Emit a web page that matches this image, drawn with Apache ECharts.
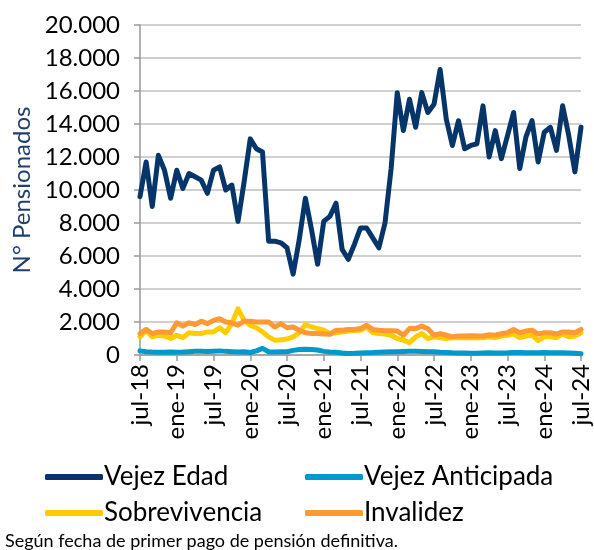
<!DOCTYPE html>
<html>
<head>
<meta charset="utf-8">
<script src="https://cdn.jsdelivr.net/npm/echarts@6/dist/echarts.min.js"></script>
<style>
html,body{margin:0;padding:0;background:#fff;}
#chart{width:594px;height:550px;}
</style>
</head>
<body>
<div id="chart"></div>
<script>
const monthNames = ['ene','feb','mar','abr','may','jun','jul','ago','sep','oct','nov','dic'];
// jul-18 .. jul-24 (73 months)
const categories = [];
for (let i = 0; i < 73; i++) {
  const m = (6 + i) % 12;
  const y = 18 + Math.floor((6 + i) / 12);
  categories.push(monthNames[m] + '-' + y);
}

const vejezEdad = [9600,11700,9000,12100,11200,9500,11200,10100,11000,10800,10600,9800,
  11200,11400,10000,10300,8100,10500,13100,12500,12300,6900,6900,6800,
  6500,4900,7000,9500,7600,5500,8100,8400,9200,6400,5800,6700,
  7700,7700,7100,6500,8000,11300,15900,13600,15500,13800,15900,14700,
  15200,17300,14300,12700,14200,12500,12700,12800,15100,12000,13600,11900,
  13300,14700,11300,13200,14200,11700,13500,13800,12400,15100,13300,11100,13800];

const vejezAnticipada = [250,200,180,170,170,180,170,180,200,220,230,210,
  230,250,220,200,180,200,150,250,400,200,180,190,
  200,280,330,350,330,300,220,180,170,120,90,100,
  120,140,150,170,180,190,200,210,220,220,210,200,
  200,170,150,130,120,120,110,110,120,130,120,120,
  130,150,150,140,130,140,150,140,130,130,120,100,70];

const sobrevivencia = [1100,1500,1100,1200,1150,1000,1200,1050,1350,1300,1300,1400,
  1400,1650,1350,1900,2800,2100,1800,1650,1400,1100,900,930,
  970,1100,1350,1850,1700,1600,1500,1300,1350,1400,1450,1480,
  1500,1700,1350,1300,1270,1200,1000,900,750,1100,1300,1000,
  1100,1050,1000,1050,1050,1050,1050,1050,1050,1100,1050,1150,
  1200,1270,1050,1150,1200,870,1100,1100,1050,1270,1100,1150,1350];

const invalidez = [1300,1550,1300,1400,1400,1350,1950,1750,1950,1850,2050,1900,
  2100,2200,2000,1950,1800,2050,2050,2000,2000,2000,1700,1900,
  1650,1700,1500,1350,1300,1300,1280,1250,1500,1500,1550,1550,
  1600,1800,1550,1500,1470,1470,1450,1200,1600,1600,1750,1600,
  1200,1300,1200,1100,1150,1150,1170,1150,1150,1230,1200,1300,
  1350,1550,1350,1450,1500,1270,1350,1350,1270,1400,1400,1350,1550];

const yTicks = [0,2000,4000,6000,8000,10000,12000,14000,16000,18000,20000];

const colors = {
  'Vejez Edad': '#06356A',
  'Vejez Anticipada': '#0099CC',
  'Sobrevivencia': '#FFCC00',
  'Invalidez': '#FF9933'
};
const FONT = 'Lato';

function fmt(v){ return String(v).replace(/\B(?=(\d{3})+(?!\d))/g, '.'); }

function mkSeries(name, data, z){
  return {
    name: name, type: 'line', data: data, showSymbol: false, symbol: 'none',
    z: z,
    lineStyle: { width: 5, color: colors[name], cap: 'round', join: 'round' },
    itemStyle: { color: colors[name] }
  };
}

const chart = echarts.init(document.getElementById('chart'), null, {renderer:'canvas'});
const legendCommon = {
  orient: 'vertical', itemWidth: 58, itemHeight: 6, itemGap: 10, icon: 'roundRect',
  textStyle: { fontFamily: FONT, fontSize: 26, color: '#000', padding: [0,0,0,-4] }
};
chart.setOption({
  animation: false,
  backgroundColor: '#fff',
  grid: { left: 140, right: 13, top: 25, bottom: 195, containLabel: false },
  legend: [
    Object.assign({}, legendCommon, { left: 40, top: 459, data: ['Vejez Edad','Sobrevivencia'] }),
    Object.assign({}, legendCommon, { left: 300, top: 459, data: ['Vejez Anticipada','Invalidez'] })
  ],
  graphic: [{
    type: 'text', left: 5, top: 532,
    style: { text: 'Según fecha de primer pago de pensión definitiva.', font: '18px ' + FONT, fill: '#000' }
  }],
  xAxis: {
    type: 'category', data: categories, boundaryGap: false,
    axisLine: { lineStyle: { color: '#999', width: 1.5 } },
    axisTick: { show: true, interval: 5, length: 6, lineStyle: { color: '#999', width: 1.5 } },
    axisLabel: { interval: 5, rotate: 90, fontFamily: FONT, fontSize: 24, color: '#000', margin: 9 }
  },
  yAxis: {
    type: 'value', min: 0, max: 20000, interval: 2000,
    name: 'N° Pensionados', nameLocation: 'middle', nameGap: 103,
    nameTextStyle: { fontFamily: FONT, fontSize: 24, color: '#1F3F6F' },
    axisLine: { show: true, lineStyle: { color: '#999', width: 1.5 } },
    axisTick: { show: true, length: 6, lineStyle: { color: '#999', width: 1.5 } },
    axisLabel: { fontFamily: FONT, fontSize: 24, color: '#000', margin: 20,
      formatter: function(v){ return fmt(v); } },
    splitLine: { lineStyle: { color: '#D0D0D0', width: 2 } }
  },
  series: [
    mkSeries('Vejez Anticipada', vejezAnticipada, 2),
    mkSeries('Sobrevivencia', sobrevivencia, 3),
    mkSeries('Invalidez', invalidez, 4),
    mkSeries('Vejez Edad', vejezEdad, 5)
  ]
});
</script>
</body>
</html>
